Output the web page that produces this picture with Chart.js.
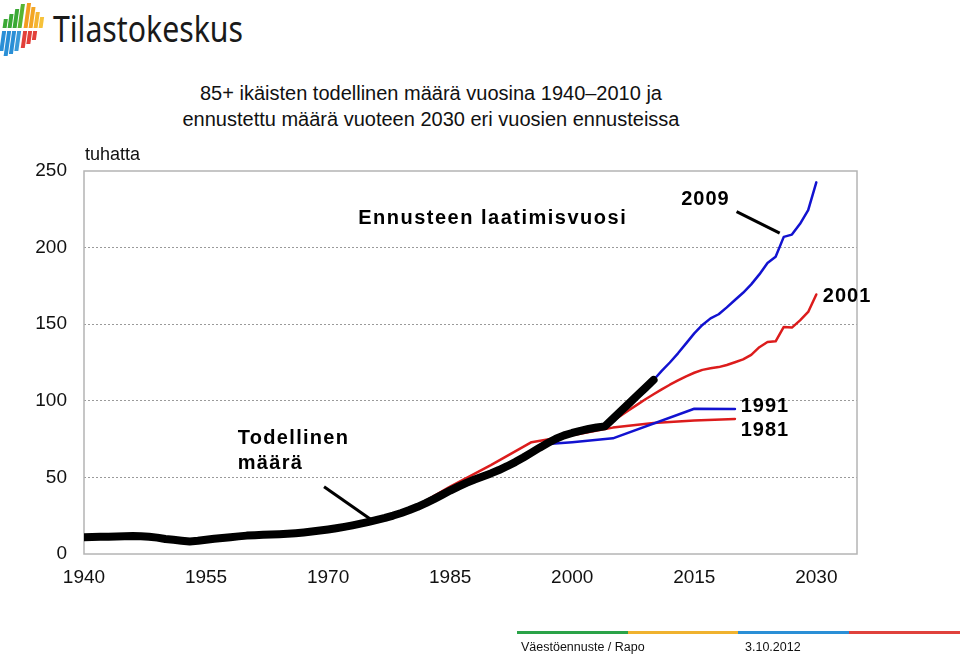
<!DOCTYPE html>
<html>
<head>
<meta charset="utf-8">
<title>85+ ikäisten määrä</title>
<script src="https://cdn.jsdelivr.net/npm/chart.js@4.4.1/dist/chart.umd.min.js"></script>
<style>
  html, body { margin: 0; padding: 0; background: #fff; }
  body { width: 960px; height: 655px; position: relative; overflow: hidden; font-family: "Liberation Sans", Arial, sans-serif; }
  #chart { position: absolute; left: 0; top: 0; }
  #logo { position: absolute; left: 0; top: 0; }
  #title { position: absolute; left: 0; top: 80px; width: 862px; text-align: center; font-size: 20px; line-height: 26px; color: #111; }
  .bar { position: absolute; top: 631px; height: 3px; width: 111px; }
  .foot { position: absolute; top: 640px; font-size: 12.5px; color: #111; }
</style>
</head>
<body>
<svg id="logo" width="260" height="60" viewBox="0 0 260 60">
  <g transform="translate(3,0) skewX(-8)">
    <!-- ylaosa -->
    <rect x="3.5" y="19" width="4" height="9" fill="#3aa935"/>
    <rect x="8.5" y="14" width="4" height="14" fill="#3aa935"/>
    <rect x="13.5" y="9" width="4" height="19" fill="#3aa935"/>
    <rect x="18.5" y="4" width="4" height="24" fill="#57b531"/>
    <rect x="24.5" y="3" width="4" height="25" fill="#f39c1f"/>
    <rect x="29.5" y="7" width="4" height="21" fill="#f3a624"/>
    <rect x="34.5" y="12" width="4" height="16" fill="#f5b531"/>
    <rect x="39.5" y="17" width="4" height="11" fill="#f7c23a"/>
    <!-- alaosa -->
    <rect x="3.5" y="31" width="4" height="20" fill="#2a8fd6"/>
    <rect x="8.5" y="31" width="4" height="25" fill="#2a8fd6"/>
    <rect x="13.5" y="31" width="4" height="23" fill="#2a8fd6"/>
    <rect x="18.5" y="31" width="4" height="20" fill="#3a9ad8"/>
    <rect x="24.5" y="31" width="4" height="17" fill="#e2403a"/>
    <rect x="29.5" y="31" width="4" height="13" fill="#e2403a"/>
    <rect x="34.5" y="31" width="4" height="9" fill="#e2403a"/>
  </g>
  <text x="53" y="42" font-family="'Noto Sans', 'Open Sans', sans-serif" font-size="36" textLength="190" lengthAdjust="spacingAndGlyphs" fill="#1a1a1a">Tilastokeskus</text>
</svg>

<div id="title">85+ ikäisten todellinen määrä vuosina 1940–2010 ja<br>ennustettu määrä vuoteen 2030 eri vuosien ennusteissa</div>

<canvas id="chart" width="960" height="655"></canvas>

<div class="bar" style="left:517px;background:#2aa348"></div>
<div class="bar" style="left:628px;background:#f0b22f"></div>
<div class="bar" style="left:738px;background:#2a8fd6"></div>
<div class="bar" style="left:849px;background:#e0413c"></div>
<div class="foot" style="left:521px">Väestöennuste / Rapo</div>
<div class="foot" style="left:745px">3.10.2012</div>

<script>
// x-akselin tikit
const xTickYears = [1940, 1955, 1970, 1985, 2000, 2015, 2030];
const xTickLabels = ['1940', '1955', '1970', '1985', '2000', '2015', '2030'];
const yTickValues = [0, 50, 100, 150, 200, 250];

// todellinen määrä (tuhatta), 1940-2010
const actualYears = [
  1940, 1941, 1942, 1943, 1944, 1945, 1946, 1947, 1948, 1949,
  1950, 1951, 1952, 1953, 1954, 1955, 1956, 1957, 1958, 1959,
  1960, 1961, 1962, 1963, 1964, 1965, 1966, 1967, 1968, 1969,
  1970, 1971, 1972, 1973, 1974, 1975, 1976, 1977, 1978, 1979,
  1980, 1981, 1982, 1983, 1984, 1985, 1986, 1987, 1988, 1989,
  1990, 1991, 1992, 1993, 1994, 1995, 1996, 1997, 1998, 1999,
  2000, 2001, 2002, 2003, 2004, 2005, 2006, 2007, 2008, 2009,
  2010
];
const actualValues = [
  11.0, 11.1, 11.2, 11.3, 11.5, 11.6, 11.7, 11.6, 11.3, 10.7,
  9.8, 9.3, 8.7, 8.2, 8.6, 9.3, 10.0, 10.5, 11.0, 11.5,
  12.0, 12.3, 12.5, 12.7, 12.9, 13.2, 13.6, 14.1, 14.7, 15.3,
  16.0, 16.8, 17.7, 18.7, 19.8, 21.0, 22.3, 23.6, 25.1, 26.8,
  28.7, 30.8, 33.2, 35.8, 38.6, 41.4, 44.0, 46.4, 48.6, 50.6,
  52.6, 54.8, 57.3, 60.0, 63.0, 66.2, 69.4, 72.4, 75.2, 77.4,
  79.0, 80.4, 81.6, 82.6, 83.3, 88.3, 93.4, 98.4, 103.5, 108.5,
  113.6
];

// ennuste 1981
const fc1981Years = [1980, 1985, 1990, 1995, 2000, 2005, 2010, 2015, 2020];
const fc1981Values = [28.7, 44.0, 58.0, 73.0, 77.5, 82.5, 85.5, 87.2, 88.2];

// ennuste 1991
const fc1991Years = [1990, 1995, 1997, 2000, 2005, 2015, 2020];
const fc1991Values = [52.6, 65.5, 71.8, 73.0, 75.5, 94.8, 94.6];

// ennuste 2001
const fc2001Years = [
  2000, 2001, 2002, 2003, 2004, 2005, 2006, 2007, 2008, 2009,
  2010, 2011, 2012, 2013, 2014, 2015, 2016, 2017, 2018, 2019,
  2020, 2021, 2022, 2023, 2024, 2025, 2026, 2027, 2028, 2029,
  2030
];
const fc2001Values = [
  79.0, 80.4, 81.6, 82.6, 83.3, 86.8, 90.4, 94.0, 97.5, 101.0,
  104.3, 107.5, 110.5, 113.3, 116.0, 118.3, 120.2, 121.2, 122.0, 123.4,
  125.2, 127.0, 130.0, 135.0, 138.4, 138.8, 148.2, 147.8, 152.5, 158.0,
  169.4
];

// ennuste 2009
const fc2009Years = [
  2009, 2010, 2011, 2012, 2013, 2014, 2015, 2016, 2017, 2018,
  2019, 2020, 2021, 2022, 2023, 2024, 2025, 2026, 2027, 2028,
  2029, 2030
];
const fc2009Values = [
  109.0, 113.6, 119.5, 125.0, 131.0, 137.5, 144.0, 149.5, 153.8, 156.5,
  161.0, 165.8, 170.5, 176.0, 182.5, 190.0, 194.0, 207.0, 208.5, 215.5,
  224.5, 242.6
];

function toPoints(years, values) {
  return years.map(function (yr, i) { return { x: yr, y: values[i] }; });
}

// tekstit ja viivat kuvan sisällä (data-koordinaateissa)
const chartLabels = [
  { text: 'Ennusteen laatimisvuosi', x: 1973.7, y: 219.3, spacing: 1.5 },
  { text: '2009', x: 2013.4, y: 231.1, spacing: 1 },
  { text: '2001', x: 2030.8, y: 167.8, spacing: 1 },
  { text: '1991', x: 2020.7, y: 96.0, spacing: 1 },
  { text: '1981', x: 2020.7, y: 80.9, spacing: 1 },
  { text: 'Todellinen', x: 1958.9, y: 75.7, spacing: 1.3 },
  { text: 'määrä', x: 1958.9, y: 59.4, spacing: 1.3 }
];
const pointerLines = [
  { x1: 2020.2, y1: 223.5, x2: 2025.5, y2: 209.4 },
  { x1: 1969.5, y1: 43.9, x2: 1975.35, y2: 22.2 }
];

const FONT = '"Liberation Sans", Arial, sans-serif';

const annotations = {
  id: 'annotations',
  beforeDatasetsDraw(chart) {
    const { ctx, chartArea } = chart;
    ctx.save();
    ctx.strokeStyle = '#b4b4b4';
    ctx.lineWidth = 1.5;
    ctx.strokeRect(chartArea.left, chartArea.top, chartArea.right - chartArea.left, chartArea.bottom - chartArea.top);
    ctx.restore();
  },
  afterDatasetsDraw(chart) {
    const { ctx, chartArea, scales: { x, y } } = chart;
    ctx.save();
    ctx.strokeStyle = '#000';
    ctx.lineWidth = 3;
    ctx.lineCap = 'butt';
    pointerLines.forEach(function (l) {
      ctx.beginPath();
      ctx.moveTo(x.getPixelForValue(l.x1), y.getPixelForValue(l.y1));
      ctx.lineTo(x.getPixelForValue(l.x2), y.getPixelForValue(l.y2));
      ctx.stroke();
    });

    ctx.fillStyle = '#000';
    ctx.textAlign = 'left';
    ctx.textBaseline = 'middle';
    ctx.font = 'bold 20px ' + FONT;
    chartLabels.forEach(function (lab) {
      ctx.letterSpacing = lab.spacing + 'px';
      ctx.fillText(lab.text, x.getPixelForValue(lab.x), y.getPixelForValue(lab.y));
    });

    ctx.letterSpacing = '0px';
    ctx.font = '18px ' + FONT;
    ctx.fillStyle = '#111';
    ctx.fillText('tuhatta', chartArea.left + 1, chartArea.top - 16);
    ctx.restore();
  }
};

const ctx = document.getElementById('chart').getContext('2d');
new Chart(ctx, {
  type: 'line',
  data: {
    datasets: [
      {
        label: 'Todellinen määrä',
        data: toPoints(actualYears, actualValues),
        borderColor: '#000',
        borderWidth: 8,
        order: 0
      },
      {
        label: '2009',
        data: toPoints(fc2009Years, fc2009Values),
        borderColor: '#1212d0',
        borderWidth: 2.5,
        order: 1
      },
      {
        label: '2001',
        data: toPoints(fc2001Years, fc2001Values),
        borderColor: '#dc1c1c',
        borderWidth: 2.5,
        order: 1
      },
      {
        label: '1991',
        data: toPoints(fc1991Years, fc1991Values),
        borderColor: '#1212d0',
        borderWidth: 2.5,
        order: 1
      },
      {
        label: '1981',
        data: toPoints(fc1981Years, fc1981Values),
        borderColor: '#dc1c1c',
        borderWidth: 2.5,
        order: 1
      }
    ]
  },
  options: {
    responsive: false,
    animation: false,
    devicePixelRatio: 1,
    layout: { padding: { left: 0, top: 171, right: 103, bottom: 61 } },
    elements: {
      point: { radius: 0, hoverRadius: 0 },
      line: { tension: 0, borderCapStyle: 'round', borderJoinStyle: 'round', fill: false }
    },
    plugins: {
      legend: { display: false },
      tooltip: { enabled: false }
    },
    scales: {
      x: {
        type: 'linear',
        min: 1940,
        max: 2035,
        afterBuildTicks: function (scale) {
          scale.ticks = xTickYears.map(function (v) { return { value: v }; });
        },
        afterFit: function (scale) { scale.height = 40; },
        grid: { display: false, drawTicks: false },
        border: { display: false },
        ticks: {
          autoSkip: false,
          maxRotation: 0,
          padding: 12,
          color: '#111',
          font: { family: FONT, size: 19 },
          callback: function (value) {
            const i = xTickYears.indexOf(value);
            return i >= 0 ? xTickLabels[i] : '';
          }
        }
      },
      y: {
        min: 0,
        max: 250,
        afterBuildTicks: function (scale) {
          scale.ticks = yTickValues.map(function (v) { return { value: v }; });
        },
        afterFit: function (scale) { scale.width = 84; },
        grid: {
          drawTicks: false,
          lineWidth: 1,
          color: function (c) {
            const v = c.tick ? c.tick.value : null;
            return (v === 0 || v === 250) ? 'rgba(0,0,0,0)' : '#9a9a9a';
          }
        },
        border: { display: false, dash: [2, 2] },
        ticks: {
          padding: 17,
          color: '#111',
          font: { family: FONT, size: 19 }
        }
      }
    }
  },
  plugins: [annotations]
});
</script>
</body>
</html>
